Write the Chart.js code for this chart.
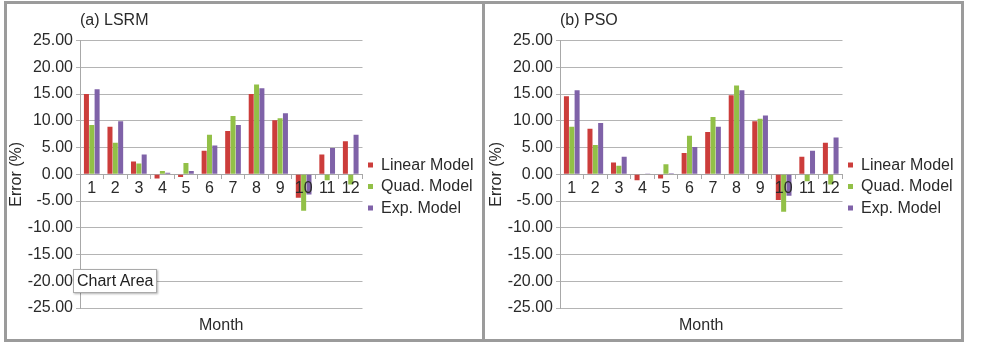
<!DOCTYPE html>
<html>
<head>
<meta charset="utf-8">
<script src="https://cdn.jsdelivr.net/npm/chart.js@4/dist/chart.umd.min.js"></script>
<style>
  body { margin: 0; background: #fff; width: 983px; height: 344px; position: relative; overflow: hidden; }
  .panel { position: absolute; top: 1px; height: 341px; box-sizing: border-box; border: 3px solid #9b9b9b; background: #fff; }
  .box { position: absolute; top: 4px; width: 474px; height: 334px; }
  .tip { position: absolute; left: 73px; top: 269px; padding: 2px 3px; background: #fff; border: 1px solid #aaa;
         box-shadow: 1px 1px 2px rgba(0,0,0,0.3); font: 16px "Liberation Sans", Arial, sans-serif; color: #222; }
</style>
</head>
<body>
<div class="panel" style="left:4px;width:481px"></div>
<div class="panel" style="left:482px;width:482px"></div>
<div class="box" style="left:7px"><canvas id="chartA"></canvas></div>
<div class="box" style="left:487px"><canvas id="chartB"></canvas></div>
<div class="tip">Chart Area</div>
<script>
const months = ['1', '2', '3', '4', '5', '6', '7', '8', '9', '10', '11', '12'];
const seriesNames = ['Linear Model', 'Quad. Model', 'Exp. Model'];

// (a) LSRM
const lsrmLinear = [15.0, 8.9, 2.4, -0.8, -0.5, 4.4, 8.1, 15.0, 10.1, -4.4, 3.7, 6.2];
const lsrmQuad = [9.2, 5.9, 2.0, 0.6, 2.1, 7.4, 10.9, 16.8, 10.5, -6.8, -1.1, -1.9];
const lsrmExp = [15.9, 9.9, 3.7, 0.3, 0.6, 5.4, 9.2, 16.1, 11.4, -3.8, 4.9, 7.4];

// (b) PSO
const psoLinear = [14.6, 8.5, 2.2, -1.1, -0.8, 4.0, 7.9, 14.8, 9.9, -4.8, 3.3, 5.9];
const psoQuad = [8.9, 5.5, 1.6, 0.1, 1.9, 7.2, 10.7, 16.6, 10.4, -7.0, -1.3, -1.9];
const psoExp = [15.7, 9.6, 3.3, 0.05, 0.2, 5.1, 8.9, 15.7, 11.0, -4.0, 4.4, 6.9];

const colors = ['#cc3d3b', '#92c047', '#7f62a8'];
const FONT = '"Liberation Sans", Arial, sans-serif';
const TEXT = '#2a2a2a';

function makeChart(id, title, series) {
    const ctx = document.getElementById(id).getContext('2d');
    return new Chart(ctx, {
        type: 'bar',
        data: {
            labels: months,
            datasets: series.map((values, i) => ({
                label: seriesNames[i],
                data: values,
                backgroundColor: colors[i],
                categoryPercentage: 0.68,
                barPercentage: 0.94
            }))
        },
        options: {
            responsive: true,
            maintainAspectRatio: false,
            animation: false,
            layout: { padding: 0 },
            plugins: {
                title: {
                    display: true, text: title, align: 'start', fullSize: false,
                    color: TEXT, font: { family: FONT, size: 16, weight: 'normal' },
                    padding: { top: 7.4, bottom: 10 }
                },
                subtitle: {
                    display: true, text: 'Month', position: 'bottom', fullSize: false,
                    color: TEXT, font: { family: FONT, size: 16 },
                    padding: { top: 8.4, bottom: 2.4 }
                },
                legend: {
                    position: 'right',
                    title: { display: true, text: '', padding: { top: 18, bottom: 12 }, font: { size: 1 } },
                    labels: {
                        boxWidth: 5, boxHeight: 5, padding: 5.5,
                        color: TEXT, font: { family: FONT, size: 16 }
                    }
                },
                tooltip: { enabled: false }
            },
            scales: {
                x: {
                    position: { y: 0 },
                    grid: { display: true, drawOnChartArea: false, drawTicks: true, tickLength: 4, offset: true, color: '#a8a8a8' },
                    border: { color: '#a8a8a8' },
                    ticks: { z: 1, color: TEXT, font: { family: FONT, size: 16 }, padding: 1, maxRotation: 0, autoSkip: false }
                },
                y: {
                    min: -25, max: 25,
                    afterFit: (scale) => { scale.width = 73; },
                    grid: { color: '#b4b4b4', tickLength: 4 },
                    border: { color: '#a8a8a8' },
                    title: { display: true, text: 'Error (%)', color: TEXT, font: { family: FONT, size: 16 }, padding: { top: 0, bottom: 0 } },
                    ticks: {
                        stepSize: 5, padding: 3, color: TEXT, font: { family: FONT, size: 16 },
                        callback: (v) => v.toFixed(2)
                    }
                }
            }
        }
    });
}

makeChart('chartA', '(a) LSRM', [lsrmLinear, lsrmQuad, lsrmExp]);
makeChart('chartB', '(b) PSO', [psoLinear, psoQuad, psoExp]);
</script>
</body>
</html>
